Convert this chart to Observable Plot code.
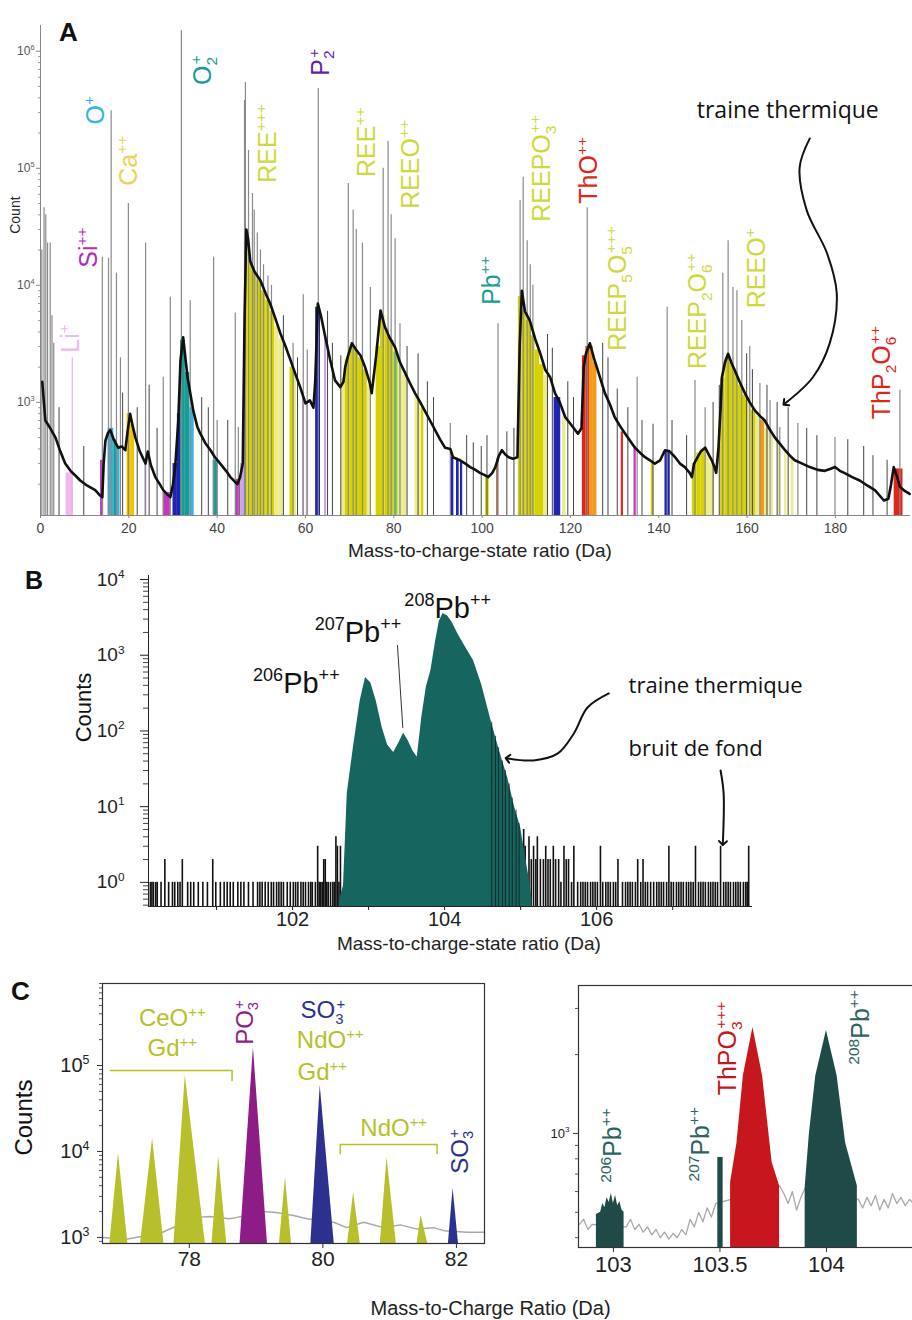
<!DOCTYPE html>
<html><head><meta charset="utf-8">
<script src="https://cdn.jsdelivr.net/npm/d3@7"></script>
<script src="https://cdn.jsdelivr.net/npm/@observablehq/plot@0.6"></script>
<style>
body{margin:0;background:#fff;}
#fig{position:relative;width:912px;height:1320px;overflow:hidden;background:#fff;}
.panel{position:absolute;}
</style></head><body><div id="fig">
<div id="pa" class="panel" style="left:0;top:0"></div>
<div id="pb" class="panel" style="left:0;top:565px"></div>
<div id="pc1" class="panel" style="left:0;top:975px"></div>
<div id="pc2" class="panel" style="left:490px;top:975px"></div>
</div>
<script>
// ---------------- Panel A data ----------------
const aXTicks = [0, 20, 40, 60, 80, 100, 120, 140, 160, 180];
const aYTicks = [1e3, 1e4, 1e5, 1e6];
// black spectrum line [mass, count]
const aBackground = [
 [0.4,1500],[1.1,700],[2.0,620],[3.4,500],[4.5,380],[5.6,300],[6.8,260],[8.0,235],[9.0,215],[10.5,195],[12.4,178],[13.5,160],[14.0,155],
 [14.3,300],[14.7,470],[15.3,550],[15.8,580],[16.6,480],[17.6,410],[18.4,420],[19.2,390],[19.7,560],[20.3,800],[20.9,620],[21.5,500],[22.5,380],[23.8,300],[24.3,380],[25.0,290],[26.0,230],[27.0,200],[27.8,178],[28.6,165],[29.4,155],
 [30.0,200],[30.5,280],[31.2,700],[31.7,2300],[32.3,3600],[33.3,1630],[34.6,850],[35.5,620],[36.2,540],[37.3,450],[38.5,390],[39.5,340],[40.7,300],[42.0,260],[43.0,230],[44.0,210],[44.6,200],[45.2,230],[45.8,300],
 [46.2,5000],[46.6,30000],[47.0,25000],[47.5,16000],[48.5,13000],[49.8,11000],[51.0,8500],[52.0,7000],[53.2,5200],[54.3,3900],[55.5,3000],[56.6,2300],[57.7,1750],[58.8,1350],[60.0,980],[61.0,1040],[61.8,900],[62.2,1500],[62.8,7000],[63.5,5500],[64.5,3600],[65.6,2300],[66.7,1540],[67.9,1350],[68.6,1500],
 [69.0,2000],[69.5,2400],[70.5,3200],[71.5,2800],[72.5,2500],[73.5,2000],[74.5,1500],[75.0,1200],[76.0,2500],[77.0,6100],[78.0,4400],[79.0,3600],[80.3,2950],[81.4,2200],[82.6,1770],[83.7,1450],[84.8,1200],[86.0,1000],[87.0,850],[88.2,700],[89.4,575],[90.5,480],[91.6,410],[92.8,400],[93.4,340],[95.0,320],[96.2,300],[97.3,280],[98.5,265],[99.5,250],[100.5,240],[101.4,230],[102.3,250],[103.0,280],[103.8,350],[104.5,390],[105.2,360],[106.0,340],[107.0,330],[108.0,340],
 [108.5,3000],[109.0,9000],[109.7,6000],[110.8,5000],[112.0,3500],[113.2,2600],[114.3,1900],[115.4,1640],[116.5,1200],[117.6,1000],[118.8,750],[120.2,640],[121.7,540],[122.5,600],[123.0,2000],[123.5,2600],[124.4,3200],[125.3,2400],[126.2,1880],[127.0,1500],[127.8,1200],[129.0,950],[130.0,750],[131.2,630],[132.4,540],[133.5,470],[134.6,410],[135.8,370],[136.9,340],[138.0,320],[139.1,300],[140.3,320],[141.4,390],[142.5,380],[143.7,340],[144.8,300],[145.9,280],[147.0,250],[147.5,230],[148.0,300],[148.6,330],[149.5,380],[150.5,410],[151.3,360],[152.0,320],[152.6,280],[153.0,250],[153.5,400],[154.0,900],[154.3,1640],[155.0,2200],[155.7,2600],[156.4,2200],[157.2,1880],[158.3,1500],[159.5,1200],[160.6,1000],[161.8,850],[163.0,760],[164.0,700],[165.2,580],[166.3,500],[167.5,440],[168.6,390],[169.7,350],[170.8,320],[172.5,300],[174.2,280],[176.0,265],[177.6,260],[178.8,270],[179.9,280],[181.0,260],[182.0,250],[183.8,230],[185.5,215],[187.2,195],[189.0,177],[190.0,160],[191.0,145],[192.0,150],[192.6,200],[193.2,280],[194.0,230],[194.6,190],[195.7,175],[196.8,165]
];
// grey peak lines [mass, count]
const aPeaks = [
 [0.3,20000],[0.8,46000],[1.2,40000],[1.6,23000],[2.2,23000],[2.6,5500],[3.0,3200],
 [14.0,17400],[15.4,17000],[16.0,310000],[17.2,12700],[18.1,2400],[19.9,50000],[23.8,23000],[27.8,1640],[29.4,7900],
 [31.9,1500000],[33.9,7400],[39.2,17400],[40.0,700],[44.1,5800],[44.8,610],
 [46.2,380000],[46.4,540000],[47.1,142000],[48.0,61000],[48.4,44000],[49.1,28000],[49.8,20000],[50.5,15000],[51.5,12000],[52.3,10000],
 [57.2,3200],[59.5,8300],[60.4,2800],[62.9,480000],
 [69.7,74000],[70.8,44000],[71.5,30000],[72.9,23000],[74.7,9600],
 [77.6,100000],[78.7,170000],[79.4,40000],[80.3,25000],[81.4,4700],[92.8,660],[103.6,4700],
 [108.6,53000],[109.3,84000],[110.2,24000],[110.9,15000],[111.5,10000],
 [123.8,46000],[135.1,1640],[141.9,6500],[148.2,1540],[150.5,900],
 [154.5,12700],[155.7,24000],[156.8,9600],[157.7,9000],[158.8,5000],[160.6,3000],[162.9,1450],[165.2,1040],[167.4,610],[171.5,660],[179.9,500],[194.6,1270]
];
// small noise peaks riding on the spectrum [mass, count]
const aSmallPeaks = [
 [4.2,900],[9.8,420],[18.6,1200],[21.9,900],[24.6,1400],[26.4,600],[36.5,1100],[38.0,900],[42.4,700],[55.0,5500],[58.2,2400],[65.0,6000],[66.1,3200],[68.0,2500],
 [83.0,3000],[85.5,2600],[87.6,1500],[89.0,1100],[96.5,520],[98.0,450],[99.8,420],[101.1,520],[105.6,560],[107.2,600],[114.8,3800],[115.9,2900],[119.4,1500],[120.7,1100],
 [127.3,3200],[128.5,2400],[130.6,1300],[133.0,900],[136.2,700],[138.7,650],[143.0,700],[146.3,520],[152.3,1000],[153.7,1400],[159.9,2600],[161.2,1900],[164.5,1400],
 [166.8,1000],[169.3,900],[173.5,600],[175.8,520],[182.8,480],[186.4,420],[188.5,350],[191.7,320]
];
const aLiLine = [[7.2, 2400]];
// coloured ranges [from, to, top count, ion group]
const aBands = [
 [5.8,7.3,250,"Li"],[13.6,14.3,320,"Si"],[15.3,16.6,600,"O"],[16.6,17.2,480,"O2"],[17.2,18.0,420,"O"],
 [19.6,20.4,800,"Ca"],[20.4,21.3,650,"Ca"],[23.6,24.0,300,"Lil"],[27.8,29.4,170,"Si"],[30.0,31.0,300,"P"],[31.0,31.7,800,"P"],
 [31.7,32.8,3400,"O2"],[32.8,33.8,1800,"O2"],[33.8,34.8,900,"O"],[39.1,40.2,320,"O2"],[44.2,45.3,220,"Si"],[45.3,46.2,300,"Lil"],
 [46.3,47.0,30000,"REE"],[47.0,48.0,16000,"REE"],[48.0,49.0,13000,"REE"],[49.0,50.0,11000,"REE"],[50.0,51.0,9000,"REE"],[51.0,52.0,7500,"REE"],[52.0,53.0,6000,"REE"],[53.0,54.0,4500,"REEpale"],[54.0,55.0,3500,"REEpale"],[56.5,57.5,2000,"REE"],[57.5,58.0,1700,"REEpale"],
 [59.3,59.7,1100,"Lil"],[60.2,60.6,1000,"Lil"],[62.3,63.4,6500,"P"],[64.3,64.8,3500,"Lil"],
 [68.2,69.0,1600,"REEpale"],[69.0,70.0,2300,"REE"],[70.0,71.0,3000,"REE"],[71.0,72.0,2800,"REE"],[72.0,73.0,2400,"REE"],[73.0,74.0,1900,"REE"],[74.0,75.0,1400,"REEpale"],
 [76.0,77.0,3000,"REE"],[77.0,78.0,5500,"REE"],[78.0,79.0,4200,"REE"],[79.0,80.0,3400,"REE"],[80.0,81.0,2700,"Gr"],[81.0,82.0,2100,"REEpale"],[82.0,83.0,1700,"REEpale"],
 [84.8,86.0,1100,"REEpale"],[86.2,86.8,900,"REE"],[93.0,93.6,340,"P"],[94.2,94.8,320,"P"],[95.1,95.6,310,"P"],[100.8,101.6,235,"REE"],[103.3,103.7,330,"Pb"],
 [108.2,109.0,8000,"REE"],[109.0,110.0,6000,"REE"],[110.0,111.0,5000,"REE"],[111.0,112.0,3700,"REE"],[112.0,113.0,2800,"REE"],[113.0,114.0,2100,"REE"],[114.0,115.0,1700,"REEpale"],[116.3,117.8,1100,"P"],[118.2,119.0,750,"REEpale"],
 [122.7,123.5,2500,"Th"],[123.5,124.3,3000,"Th"],[124.3,125.2,3000,"Or"],[125.2,126.0,2200,"Or"],
 [131.5,132.0,560,"Th"],[134.4,134.9,420,"Si"],[138.3,138.8,310,"REE"],[141.4,142.6,390,"P"],
 [147.6,148.6,300,"REE"],[148.6,149.6,370,"REE"],[149.6,150.6,400,"REE"],[150.6,151.6,350,"REEpale"],[151.6,152.6,300,"REEpale"],
 [154.0,155.0,1600,"REE"],[155.0,156.0,2400,"REE"],[156.0,157.0,2200,"REE"],[157.0,158.0,1800,"REE"],[158.0,159.0,1400,"REE"],[159.0,160.0,1150,"REE"],[160.0,161.0,1000,"REEpale"],[161.0,162.0,850,"REE"],[162.0,163.0,760,"REEpale"],[163.0,164.0,700,"Or"],[164.0,165.0,600,"REEpale"],[165.5,166.0,520,"REEpale"],[167.0,167.5,450,"REEpale"],[168.5,169.0,390,"REEpale"],[170.0,170.6,330,"REEpale"],
 [193.3,195.3,270,"Th"]
];
// ion labels [mass, count, text, group]
const aLabels = [
 [6.8,3520,"Li⁺","Li"],[11.0,21000,"Si⁺⁺","SiT"],[12.6,313000,"O⁺","O"],[20.0,116000,"Ca⁺⁺","CaT"],[36.8,690000,"O₂⁺","O2"],
 [51.6,163000,"REE⁺⁺⁺","REET"],[63.5,806000,"P₂⁺","Pu"],[74.0,167000,"REE⁺⁺","REET"],[84.0,108000,"REEO⁺⁺","REET"],
 [102.3,11000,"Pb⁺⁺","O2"],[113.6,100000,"REEPO₃⁺⁺","REET"],[124.3,96000,"ThO⁺⁺","Th"],[130.8,9400,"REEP₅O₅⁺⁺⁺","REET"],
 [148.9,6000,"REEP₂O₆⁺⁺","REET"],[162.2,14000,"REEO⁺","REET"],[190.6,1800,"ThP₂O₆⁺⁺","Th"]
];
const aArrow = [[174.2,180000],[171.9,102000],[173.5,43700],[178.1,18800],[180.3,8550],[178.7,3190],[174.9,1640],[168.6,980]];
const aGroups = ["Li","Si","SiT","O","Ca","CaT","O2","P","Pu","REE","REET","REEpale","Th","Or","Pb","Gr","Lil"];
const aColors = ["#f0b8ee","#c236c0","#b52ab2","#33b4e4","#f0c400","#e8d64e","#179c96","#2024b0","#6422ac","#d6d200","#cfd93c","#ecec8c","#e0261a","#f29a1a","#a05a3a","#8fd24a","#c9a6e6"];

// ---------------- Panel B data ----------------
const bXMajor = [102, 104, 106];
const bXMinor = [101, 103, 105, 107];
const bYTicks = [1, 10, 100, 1000, 10000];
const bPeak = [
 [102.62,0.6],[102.67,0.9],[102.72,15],[102.80,60],[102.89,250],[102.96,508],[103.03,430],[103.10,250],[103.18,110],[103.25,65],[103.33,52],[103.40,70],[103.46,93],[103.52,75],[103.58,55],[103.64,45],[103.70,150],[103.76,380],[103.82,630],[103.88,1500],[103.93,2800],[103.98,3550],[104.04,3300],[104.10,2700],[104.17,1950],[104.27,1300],[104.38,850],[104.49,400],[104.60,150],[104.72,55],[104.83,24],[104.92,10],[105.00,5.3],[105.07,2],[105.12,1],[105.15,0.6]
];
const bTail = [[104.62,130],[104.67,85],[104.71,60],[104.76,40],[104.80,30],[104.85,20],[104.89,13],[104.94,9],[104.98,6]];
const bNoise = [
 [100.13,1],[100.15,1],[100.17,1],[100.20,1],[100.22,1],[100.27,1],[100.32,2],[100.37,1],[100.42,1],[100.45,1],[100.49,1],[100.52,1],[100.55,2],[100.62,1],[100.66,1],[100.70,1],[100.76,1],[100.82,1],[100.88,1],[100.95,2],[100.99,1],[101.05,1],[101.10,1],[101.14,1],[101.18,1],[101.22,1],[101.28,1],[101.32,1],[101.36,1],[101.42,1],[101.48,1],[101.54,1],[101.57,1],[101.60,1],[101.64,1],[101.68,1],[101.72,1],[101.75,1],[101.79,1],[101.82,1],[101.85,1],[101.88,1],[101.93,1],[101.97,1],[102.01,1],[102.04,1],[102.07,1],[102.11,1],[102.14,1],[102.17,1],[102.21,1],[102.24,1],[102.26,1],[102.30,1],[102.33,3],[102.35,1],[102.37,1],[102.39,1],[102.41,2],[102.43,2],[102.45,1],[102.47,1],[102.50,1],[102.53,1],[102.55,1],[102.57,4],[102.59,3],[102.61,1],[102.63,3],
 [105.04,5],[105.06,3],[105.11,4],[105.14,2],[105.17,3],[105.20,2],[105.22,4],[105.26,2],[105.30,2],[105.33,3],[105.36,2],[105.39,2],[105.43,3],[105.46,2],[105.50,2],[105.53,1],[105.57,3],[105.60,2],[105.63,2],[105.67,1],[105.70,3],[105.75,1],[105.79,1],[105.82,1],[105.85,1],[105.88,1],[105.92,1],[105.95,1],[105.98,1],[106.01,1],[106.05,3],[106.08,1],[106.12,1],[106.15,1],[106.18,1],[106.22,1],[106.25,1],[106.28,2],[106.34,1],[106.38,1],[106.41,1],[106.44,1],[106.47,1],[106.51,1],[106.54,2],[106.58,1],[106.61,2],[106.64,1],[106.67,1],[106.71,1],[106.75,1],[106.79,1],[106.82,1],[106.85,1],[106.88,1],[106.92,1],[106.95,3],[106.98,1],[107.01,1],[107.05,1],[107.08,1],[107.11,1],[107.14,1],[107.18,1],[107.21,1],[107.24,1],[107.27,1],[107.30,3],[107.34,1],[107.37,1],[107.40,1],[107.43,1],[107.47,1],[107.50,1],[107.53,1],[107.56,1],[107.59,1],[107.63,3],[107.67,1],[107.70,1],[107.73,1],[107.76,1],[107.80,1],[107.83,1],[107.86,1],[107.89,1],[107.93,1],[107.96,1],[107.98,1],[108.00,3]
];
const bLabels = [[102.05,424,"²⁰⁶Pb⁺⁺"],[102.86,2000,"²⁰⁷Pb⁺⁺"],[104.04,4140,"²⁰⁸Pb⁺⁺"]];
const bLeader = [[103.38,1345],[103.45,111]];
const bArrow1 = [[106.16,313],[105.88,204],[105.70,92.7],[105.49,50.5],[105.17,40.8],[104.83,43.4]];
const bArrow2 = [[107.63,30],[107.67,15],[107.66,3.3]];

// ---------------- Panel C data ----------------
const cLXTicks = [78, 80, 82];
const cLYTicks = [1e3, 1e4, 1e5];
// [centre, left base, right base, top count, ion group]
const cLeftPeaks = [
 [76.94,76.81,77.08,9500,"REE"],[77.45,77.27,77.62,14200,"REE"],[77.94,77.77,78.24,76500,"REE"],[78.44,78.34,78.56,8700,"REE"],
 [78.96,78.76,79.17,162000,"PO3"],[79.44,79.35,79.53,4970,"REE"],[79.96,79.82,80.17,58600,"SO3"],[80.46,80.37,80.56,3340,"REE"],
 [80.96,80.86,81.10,8500,"REE"],[81.47,81.41,81.57,1800,"REE"],[81.95,81.88,82.03,3700,"SO3"]
];
const cLeftBg = [[76.70,1000],[77.05,950],[77.2,1000],[77.6,1150],[77.8,1350],[78.1,1700],[78.3,1750],[78.6,1650],[78.7,1700],[79.1,2000],[79.3,1950],[79.56,1800],[79.76,1650],[80.16,1500],[80.36,1300],[80.61,1500],[80.91,1300],[81.16,1400],[81.41,1250],[81.66,1300],[81.81,1200],[82.16,1150],[82.42,1150]];
const cLeftText = [
 [77.745,352000,"CeO⁺⁺","REE"],[77.745,158000,"Gd⁺⁺","REE"],[80.0,436000,"SO₃⁺","SO3"],[80.11,195000,"NdO⁺⁺","REE"],[79.99,83000,"Gd⁺⁺","REE"],[81.06,18500,"NdO⁺⁺","REE"]
];
const cLeftRotText = [[78.84,316000,"PO₃⁺","PO3"],[82.06,10000,"SO₃⁺","SO3"]];
const cBracket1 = [[76.82,87500],[78.64,87500],[78.64,67000]];
const cBracket2 = [[80.26,9500],[80.26,12060],[81.71,12060],[81.71,9500]];

const cRXTicks = [103, 103.5, 104];
const cR206 = [[102.92,490],[102.94,500],[102.95,540],[102.96,520],[102.97,570],[102.98,545],[102.99,590],[103.0,540],[103.01,580],[103.02,530],[103.03,550],[103.04,510],[103.05,500]];
const cR207 = [[103.49,810],[103.515,810]];
const cRTh = [[103.55,650],[103.58,920],[103.61,1660],[103.655,2540],[103.70,1660],[103.745,775],[103.78,630]];
const cR208 = [[103.90,620],[103.92,1000],[103.95,1660],[104.0,2470],[104.05,1660],[104.09,920],[104.145,630]];
const cRBg = [[102.84,450],[102.86,470],[102.88,430],[102.90,450],[103.06,440],[103.08,470],[103.10,430],[103.12,450],[103.14,420],[103.16,440],[103.18,410],[103.20,430],[103.22,400],[103.24,420],[103.26,395],[103.28,415],[103.30,400],[103.32,430],[103.34,410],[103.36,470],[103.38,440],[103.40,500],[103.42,460],[103.44,520],[103.46,480],[103.48,540],[103.78,630],[103.80,590],[103.82,540],[103.84,600],[103.86,510],[103.88,570],[103.90,620],[104.15,560],[104.17,520],[104.19,570],[104.21,530],[104.23,580],[104.25,510],[104.27,560],[104.29,520],[104.31,590],[104.33,540],[104.35,570],[104.37,530],[104.39,560],[104.41,540]];
const cRText = [[103.0,900,"²⁰⁶Pb⁺⁺","Pb"],[103.41,910,"²⁰⁷Pb⁺⁺","Pb"],[103.538,2110,"ThPO₃⁺⁺⁺","Th"],[104.16,2540,"²⁰⁸Pb⁺⁺","Pb"]];

// ---------------- helpers ----------------
const SUP = {"0":"⁰","1":"¹","2":"²","3":"³","4":"⁴","5":"⁵","6":"⁶","7":"⁷","8":"⁸","9":"⁹"};
const pow10 = d => "10" + String(Math.round(Math.log10(d))).split("").map(c => SUP[c]).join("");
function minors(lo, hi) {
  const out = [];
  for (let e = Math.floor(Math.log10(lo)); e <= Math.ceil(Math.log10(hi)); e++)
    for (let k = 2; k <= 9; k++) { const v = k * Math.pow(10, e); if (v >= lo && v <= hi) out.push(v); }
  return out;
}
// turn unicode super/subscripts into real raised/lowered tspans (sub + sup stacked)
const SUPMAP = {"⁰":"0","¹":"1","²":"2","³":"3","⁴":"4","⁵":"5","⁶":"6","⁷":"7","⁸":"8","⁹":"9","⁺":"+"};
const SUBMAP = {"₀":"0","₁":"1","₂":"2","₃":"3","₄":"4","₅":"5","₆":"6","₇":"7","₈":"8","₉":"9"};
function scripts(svg) {
  svg.querySelectorAll("text").forEach(t => {
    if (t.querySelector("tspan")) return;
    const chars = [...t.textContent];
    if (!chars.some(c => SUPMAP[c] || SUBMAP[c])) return;
    const fs = parseFloat(getComputedStyle(t).fontSize) || 12;
    const runs = [];
    for (const c of chars) {
      const type = SUPMAP[c] ? "p" : SUBMAP[c] ? "b" : "n";
      const ch = SUPMAP[c] || SUBMAP[c] || c;
      if (runs.length && runs[runs.length - 1].type === type) runs[runs.length - 1].text += ch;
      else runs.push({type, text: ch});
    }
    t.textContent = "";
    let cur = 0, prev = null, prevType = null;
    for (const r of runs) {
      const target = r.type === "p" ? -0.4 * fs : r.type === "b" ? 0.22 * fs : 0;
      const ts = document.createElementNS("http://www.w3.org/2000/svg", "tspan");
      ts.textContent = r.text;
      if (r.type !== "n") ts.setAttribute("font-size", (0.62 * fs).toFixed(1));
      if (target !== cur) ts.setAttribute("dy", (target - cur).toFixed(1));
      t.appendChild(ts);
      if (r.type === "p" && prevType === "b" && prev) {
        const w = prev.getComputedTextLength();
        if (w) ts.setAttribute("dx", (-w * 0.85).toFixed(1));
      }
      cur = target; prev = ts; prevType = r.type;
    }
  });
}
const SANS = "Liberation Sans, Arial, sans-serif";
const OPEN = "Open Sans, sans-serif";

// ---------------- Panel A ----------------
const yA0 = 108, yA1 = 1.66e6;
const plotA = Plot.plot({
  width: 912, height: 565, marginLeft: 40, marginRight: 2, marginTop: 25, marginBottom: 50,
  style: {fontFamily: SANS, background: "transparent", overflow: "visible"},
  x: {domain: [0, 197]},
  y: {type: "log", domain: [yA0, yA1]},
  color: {domain: aGroups, range: aColors},
  marks: [
    Plot.rect(aBands, {x1: d => d[0], x2: d => d[1], y1: () => yA0, y2: d => d[2], fill: d => d[3]}),
    Plot.ruleX(aPeaks, {x: d => d[0], y1: () => yA0, y2: d => d[1], stroke: "#8a8a8a", strokeWidth: 1.2}),
    Plot.ruleX(aSmallPeaks, {x: d => d[0], y1: () => yA0, y2: d => d[1], stroke: "#444", strokeWidth: 1}),
    Plot.ruleX(aLiLine, {x: d => d[0], y1: () => yA0, y2: d => d[1], stroke: "#e8b4e6", strokeWidth: 1.2}),
    Plot.line(aBackground, {x: d => d[0], y: d => d[1], stroke: "#111", strokeWidth: 2.6}),
    Plot.ruleX([0], {stroke: "#888"}),
    Plot.ruleY([yA0], {stroke: "#888"}),
    Plot.axisX({ticks: aXTicks, tickFormat: d => String(d), tickSize: 3, tickPadding: 5, fontSize: 14, fill: "#444", stroke: "#888", label: null}),
    Plot.axisY({ticks: aYTicks, tickFormat: pow10, tickSize: 4, tickPadding: 2, fontSize: 12, fill: "#555", stroke: "#888", label: null}),
    Plot.axisY({ticks: minors(yA0, yA1), tickFormat: () => "", tickSize: 2, stroke: "#999", label: null}),
    Plot.text(aLabels, {x: d => d[0], y: d => d[1], text: d => d[2], fill: d => d[3], rotate: -90, fontSize: 25, fontFamily: SANS}),
    Plot.text(["traine thermique"], {x: () => 148.6, y: () => 313000, textAnchor: "start", fontSize: 23, fontFamily: OPEN, fill: "#111"}),
    Plot.line(aArrow, {x: d => d[0], y: d => d[1], curve: "catmull-rom", stroke: "#111", strokeWidth: 2, markerEnd: "arrow"}),
    Plot.text(["A"], {x: () => 6.33, y: () => 1.45e6, fontSize: 26, fontWeight: "bold", fontFamily: SANS, fill: "#111"}),
    Plot.text(["Count"], {x: () => -5.66, y: () => 39800, rotate: -90, fontSize: 14, fontFamily: SANS, fill: "#222"}),
    Plot.text(["Mass-to-charge-state ratio (Da)"], {x: () => 99.5, y: () => 54, fontSize: 19, fontFamily: SANS, fill: "#222"})
  ]
});
document.getElementById("pa").appendChild(plotA);
scripts(plotA);

// ---------------- Panel B ----------------
const yB0 = 0.48, yB1 = 11300;
const plotB = Plot.plot({
  width: 912, height: 395, marginLeft: 148, marginRight: 160, marginTop: 10, marginBottom: 54,
  style: {fontFamily: SANS, background: "transparent", overflow: "visible"},
  x: {domain: [100.105, 108.05]},
  y: {type: "log", domain: [yB0, yB1]},
  marks: [
    Plot.ruleX(bNoise, {x: d => d[0], y1: () => yB0, y2: d => d[1], stroke: "#111", strokeWidth: 1.6}),
    Plot.area(bPeak, {x1: d => d[0], y1: () => yB0, y2: d => d[1], fill: "#17655f"}),
    Plot.ruleX(bTail, {x: d => d[0], y1: () => yB0, y2: d => d[1], stroke: "#111", strokeWidth: 0.7}),
    Plot.ruleX([100.105], {stroke: "#222"}),
    Plot.ruleY([yB0], {stroke: "#222"}),
    Plot.axisX({ticks: bXMajor, tickFormat: d => String(d), tickSize: 4, tickPadding: 1, fontSize: 20, fill: "#222", stroke: "#222", label: null}),
    Plot.axisX({ticks: bXMinor, tickFormat: () => "", tickSize: 4, stroke: "#222", label: null}),
    Plot.axisY({ticks: bYTicks, tickFormat: pow10, tickSize: 8, tickPadding: 16, fontSize: 19, fill: "#222", stroke: "#222", label: null}),
    Plot.axisY({ticks: minors(yB0, yB1), tickFormat: () => "", tickSize: 5, stroke: "#444", label: null}),
    Plot.text(bLabels, {x: d => d[0], y: d => d[1], text: d => d[2], fontSize: 29, fontFamily: SANS, fill: "#111"}),
    Plot.line(bLeader, {x: d => d[0], y: d => d[1], stroke: "#333", strokeWidth: 1}),
    Plot.text(["traine thermique"], {x: () => 106.42, y: () => 387, textAnchor: "start", fontSize: 22, fontFamily: OPEN, fill: "#111"}),
    Plot.text(["bruit de fond"], {x: () => 106.42, y: () => 58.7, textAnchor: "start", fontSize: 22, fontFamily: OPEN, fill: "#111"}),
    Plot.line(bArrow1, {x: d => d[0], y: d => d[1], curve: "catmull-rom", stroke: "#111", strokeWidth: 2, markerEnd: "arrow"}),
    Plot.line(bArrow2, {x: d => d[0], y: d => d[1], curve: "catmull-rom", stroke: "#111", strokeWidth: 2, markerEnd: "arrow"}),
    Plot.text(["B"], {x: () => 98.6, y: () => 9700, fontSize: 25, fontWeight: "bold", fontFamily: SANS, fill: "#111"}),
    Plot.text(["Counts"], {x: () => 99.25, y: () => 204, rotate: -90, fontSize: 22, fontFamily: SANS, fill: "#111"}),
    Plot.text(["Mass-to-charge-state ratio (Da)"], {x: () => 104.32, y: () => 0.152, fontSize: 19, fontFamily: SANS, fill: "#222"})
  ]
});
document.getElementById("pb").appendChild(plotB);
scripts(plotB);

// ---------------- Panel C left ----------------
const yC0 = 850, yC1 = 9e5;
const cLeftPoly = cLeftPeaks.flatMap((p, i) => [
  {i, x: p[1], y: yC0, g: p[4]}, {i, x: p[0], y: p[3], g: p[4]}, {i, x: p[2], y: yC0, g: p[4]}
]);
const plotC1 = Plot.plot({
  width: 912, height: 345, marginLeft: 102, marginRight: 428, marginTop: 8, marginBottom: 77,
  style: {fontFamily: SANS, background: "transparent", overflow: "visible"},
  x: {domain: [76.70, 82.42]},
  y: {type: "log", domain: [yC0, yC1]},
  color: {domain: ["REE", "PO3", "SO3"], range: ["#b7c02a", "#8c1d87", "#2c318f"]},
  marks: [
    Plot.line(cLeftBg, {x: d => d[0], y: d => d[1], stroke: "#a8a8a8", strokeWidth: 1.5}),
    Plot.area(cLeftPoly, {x1: "x", y1: () => yC0, y2: "y", z: "i", fill: "g"}),
    Plot.frame({stroke: "#333", strokeWidth: 1.2}),
    Plot.axisX({ticks: cLXTicks, tickFormat: d => String(d), tickSize: 5, tickPadding: 3, fontSize: 21, fill: "#222", stroke: "#333", label: null}),
    Plot.axisY({ticks: cLYTicks, tickFormat: pow10, tickSize: 5, tickPadding: 8, fontSize: 20, fill: "#222", stroke: "#333", label: null}),
    Plot.axisY({ticks: minors(yC0, yC1), tickFormat: () => "", tickSize: 3, stroke: "#555", label: null}),
    Plot.line(cBracket1, {x: d => d[0], y: d => d[1], stroke: "#b7c02a", strokeWidth: 1.5}),
    Plot.line(cBracket2, {x: d => d[0], y: d => d[1], stroke: "#b7c02a", strokeWidth: 1.5}),
    Plot.text(cLeftText, {x: d => d[0], y: d => d[1], text: d => d[2], fill: d => d[3], fontSize: 24, fontFamily: SANS}),
    Plot.text(cLeftRotText, {x: d => d[0], y: d => d[1], text: d => d[2], fill: d => d[3], rotate: -90, fontSize: 24, fontFamily: SANS}),
    Plot.text(["C"], {x: () => 75.47, y: () => 724000, fontSize: 26, fontWeight: "bold", fontFamily: SANS, fill: "#111"}),
    Plot.text(["Counts"], {x: () => 75.53, y: () => 24800, rotate: -90, fontSize: 24, fontFamily: SANS, fill: "#111"}),
    Plot.text(["Mass-to-Charge Ratio (Da)"], {x: () => 82.51, y: () => 149, fontSize: 20, fontFamily: SANS, fill: "#222"})
  ]
});
document.getElementById("pc1").appendChild(plotC1);
scripts(plotC1);

// ---------------- Panel C right (frame runs off the right edge) ----------------
const yD0 = 367, yD1 = 3670;
const plotC2 = Plot.plot({
  width: 422, height: 345, marginLeft: 88, marginRight: -3, marginTop: 10, marginBottom: 73,
  style: {fontFamily: SANS, background: "transparent", overflow: "visible"},
  x: {domain: [102.836, 104.418]},
  y: {type: "log", domain: [yD0, yD1]},
  color: {domain: ["Pb", "Th"], range: ["#2b6360", "#c8161e"]},
  marks: [
    Plot.line(cRBg, {x: d => d[0], y: d => d[1], stroke: "#a8a8a8", strokeWidth: 1.3}),
    Plot.area(cR206, {x1: d => d[0], y1: () => yD0, y2: d => d[1], fill: "#1f4a48"}),
    Plot.area(cR207, {x1: d => d[0], y1: () => yD0, y2: d => d[1], fill: "#1f4a48"}),
    Plot.area(cRTh, {x1: d => d[0], y1: () => yD0, y2: d => d[1], fill: "#c8161e"}),
    Plot.area(cR208, {x1: d => d[0], y1: () => yD0, y2: d => d[1], fill: "#1f4a48"}),
    Plot.frame({stroke: "#333", strokeWidth: 1.2}),
    Plot.axisX({ticks: cRXTicks, tickFormat: d => String(d), tickSize: 5, tickPadding: 4, fontSize: 22, fill: "#222", stroke: "#333", label: null}),
    Plot.axisY({ticks: [1000], tickFormat: pow10, tickSize: 5, tickPadding: 4, fontSize: 13, fill: "#222", stroke: "#333", label: null}),
    Plot.axisY({ticks: minors(yD0, yD1), tickFormat: () => "", tickSize: 3, stroke: "#555", label: null}),
    Plot.text(cRText, {x: d => d[0], y: d => d[1], text: d => d[2], fill: d => d[3], rotate: -90, fontSize: 25, fontFamily: SANS})
  ]
});
document.getElementById("pc2").appendChild(plotC2);
scripts(plotC2);
</script>
</body></html>
